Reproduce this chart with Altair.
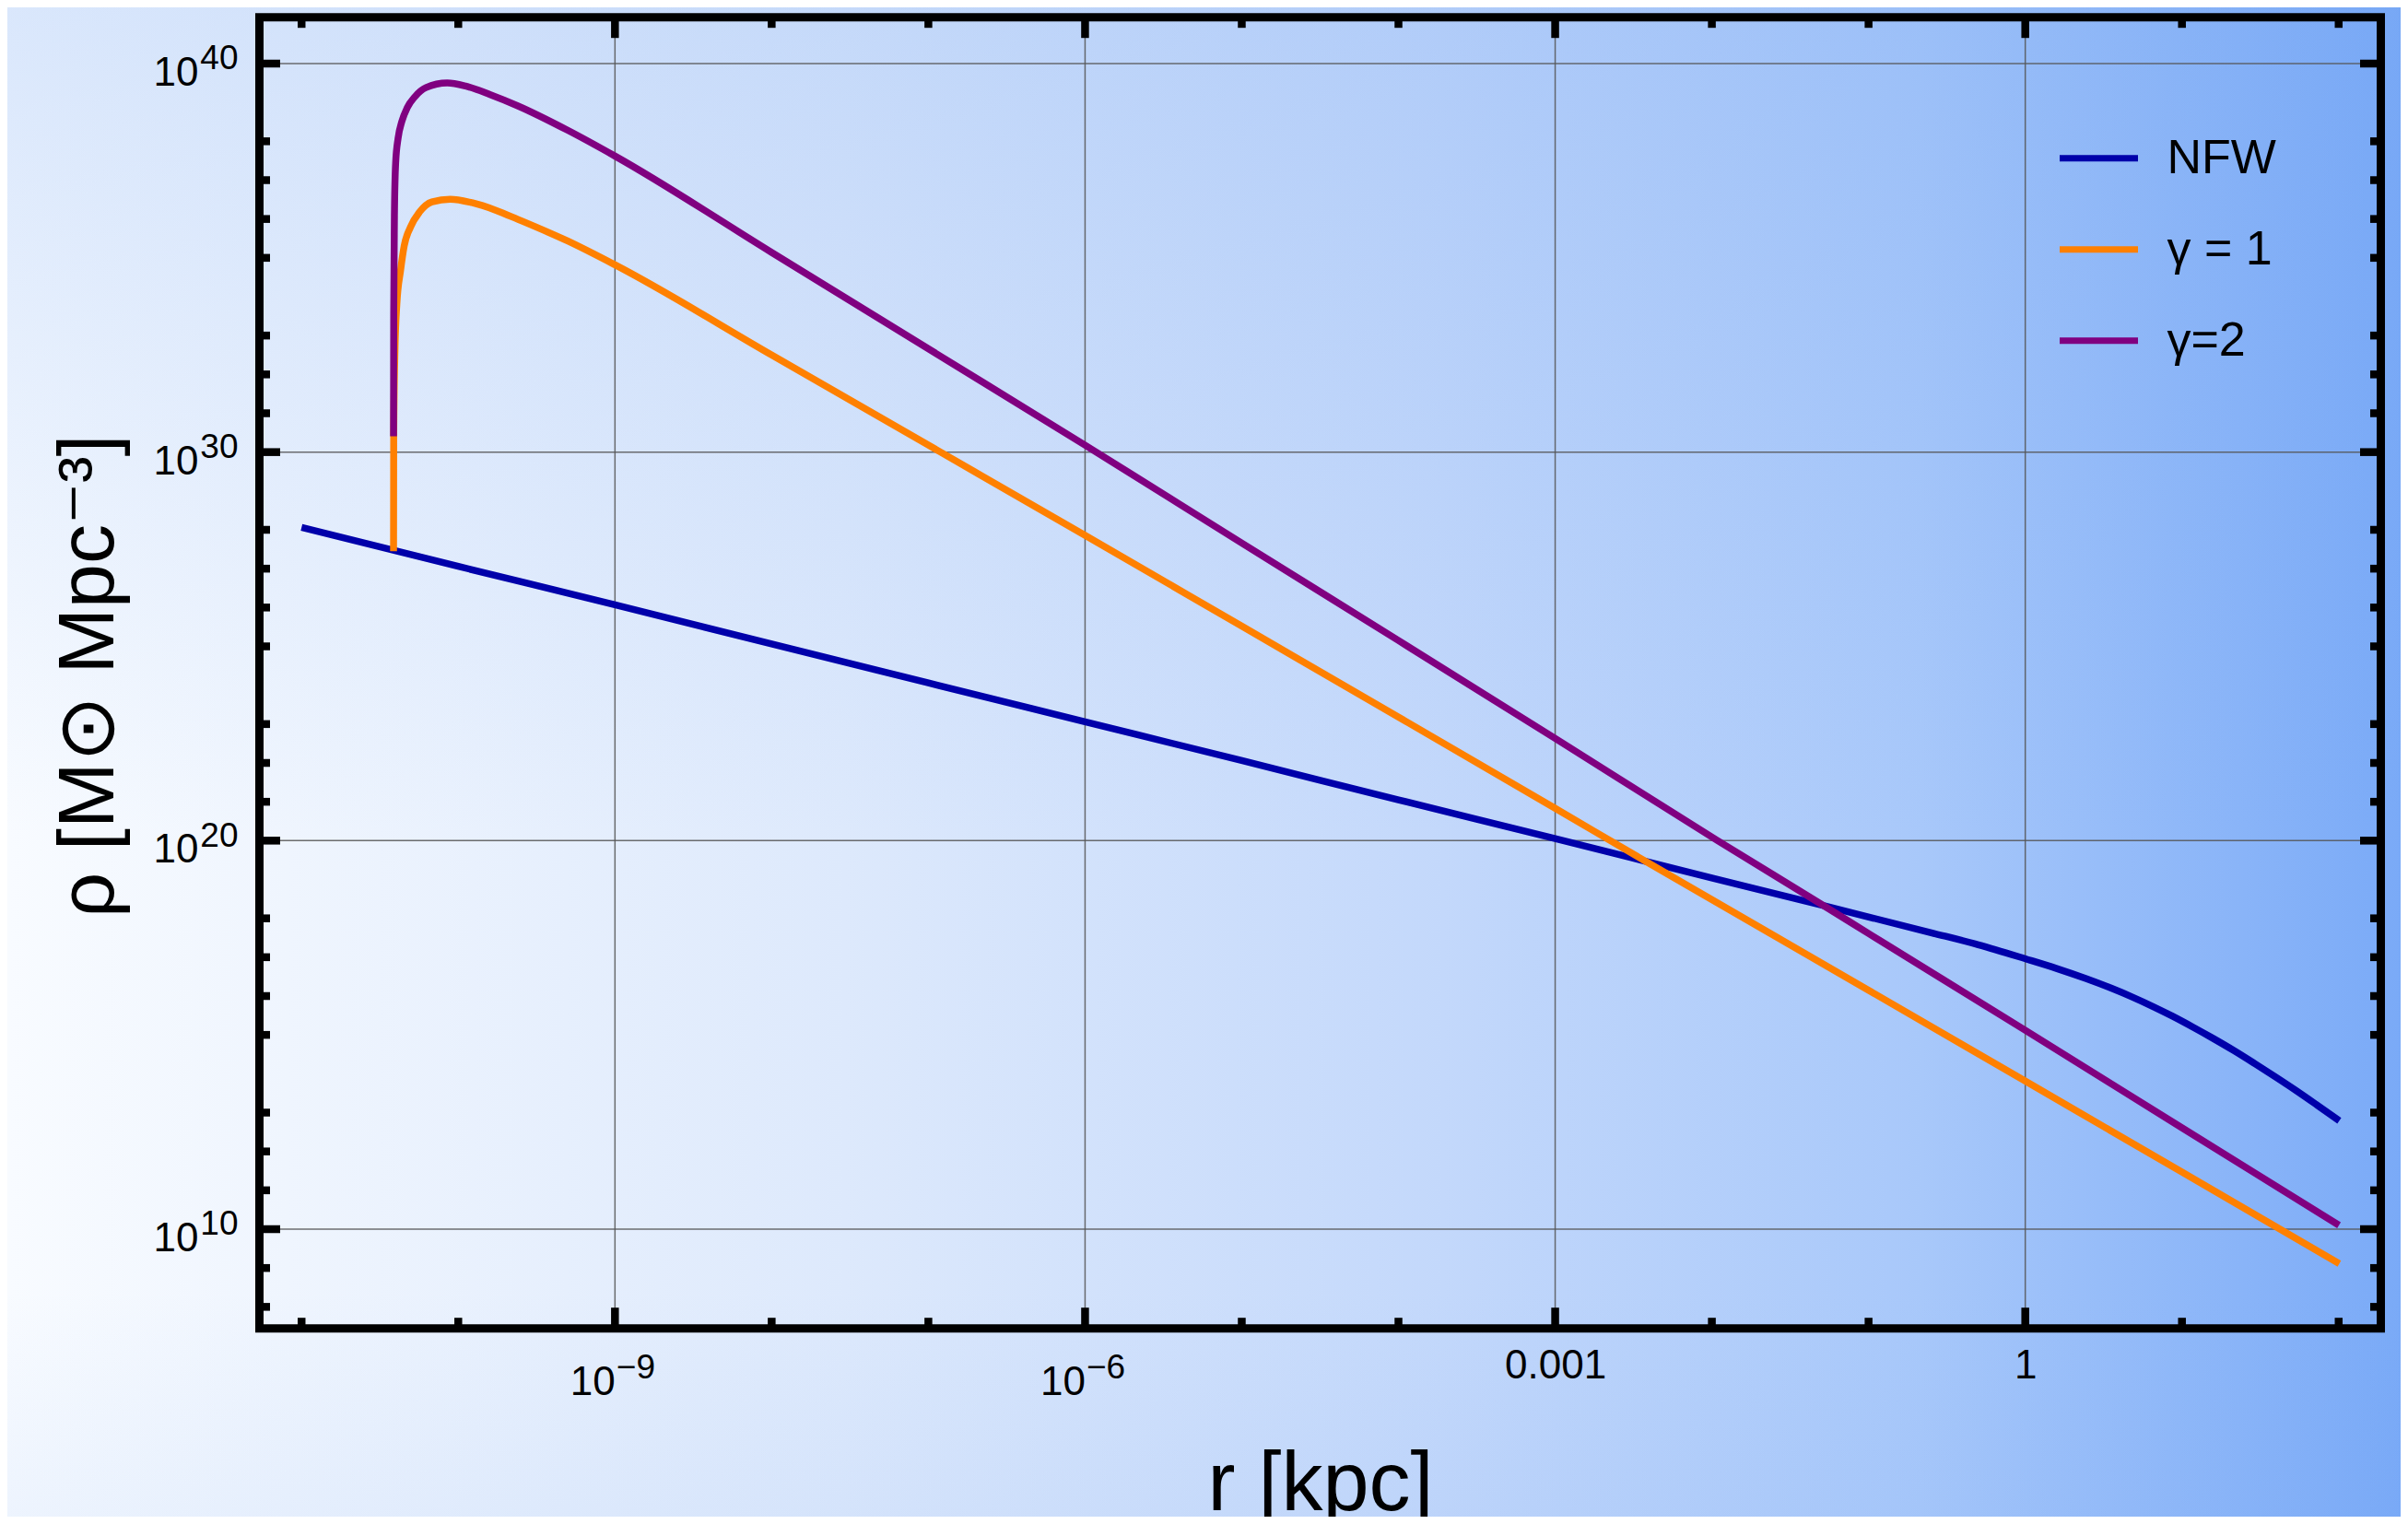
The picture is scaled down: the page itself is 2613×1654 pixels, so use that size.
import altair as alt
import pandas as pd

FONT = "Liberation Sans"

SERIES = ["NFW", "γ = 1", "γ=2"]
COLORS = ["#0000aa", "#ff8000", "#800080"]

# log10(r / kpc) and log10(rho / (Msun Mpc^-3))
nfw_log_r = [-11.0, -10.0, -9.0, -8.0, -7.0, -6.0, -5.0, -4.0, -3.0, -2.0, -1.28, -0.6, -0.3,
             0.0, 0.2, 0.387, 0.55, 0.68, 0.82, 0.94, 1.07, 1.19, 1.33, 1.465, 1.6, 1.72, 1.86, 2.004]
nfw_log_rho = [28.06, 27.06, 26.07, 25.06, 24.06, 23.06, 22.06, 21.05, 20.05, 19.04, 18.32, 17.63, 17.32,
               16.96, 16.71, 16.45, 16.20, 15.98, 15.72, 15.48, 15.20, 14.93, 14.60, 14.26, 13.91, 13.59, 13.20, 12.79]

g1_log_r = [-10.413, -10.412, -10.404, -10.392, -10.368, -10.345, -10.305, -10.247, -10.168,
            -10.051, -9.913, -9.757, -9.619, -9.3, -9.0, -8.0, -7.0, -6.0, -5.0, -4.0, -3.0,
            -2.436, -1.0, 0.0, 1.0, 2.004]
g1_log_rho = [27.45, 30.42, 32.63, 33.81, 34.68, 35.31, 35.79, 36.18, 36.44,
              36.51, 36.42, 36.22, 35.99, 35.43, 34.82, 32.50, 30.18, 27.86, 25.52, 23.18, 20.83,
              19.50, 16.15, 13.81, 11.47, 9.11]

g2_log_r = [-10.413, -10.412, -10.407, -10.3995, -10.384, -10.360, -10.325, -10.276, -10.207,
            -10.070, -9.953, -9.796, -9.619, -9.3, -9.0, -8.0, -7.0, -6.0, -5.0, -4.0, -3.0,
            -1.963, -1.288, -1.0, 0.0, 1.0, 2.002]
g2_log_rho = [30.41, 33.57, 36.26, 37.45, 38.08, 38.51, 38.87, 39.15, 39.38,
              39.50, 39.42, 39.20, 38.91, 38.28, 37.62, 35.14, 32.66, 30.18, 27.66, 25.15, 22.63,
              20.0, 18.33, 17.61, 15.12, 12.61, 10.10]

# axis ticks (exponents)
x_major_exp = [-9, -6, -3, 0]
x_minor_exp = [-11, -10, -8, -7, -5, -4, -2, -1, 1, 2]
y_major_exp = [10, 20, 30, 40]
y_minor_exp = [8, 9, 11, 12, 13, 15, 16, 17, 18, 21, 22, 23, 25, 26, 27, 28,
               31, 32, 33, 35, 36, 37, 38]

X_DOMAIN_EXP = [-11.269, 2.269]
Y_DOMAIN_EXP = [7.446, 41.193]

W, H = 2302, 1423
PAD_L, PAD_T = 273.5, 10.7
PAD_R = 2597 - PAD_L - W
PAD_B = 1638 - PAD_T - H

xs = alt.Scale(type="log", domain=[10 ** X_DOMAIN_EXP[0], 10 ** X_DOMAIN_EXP[1]], nice=False)
ys = alt.Scale(type="log", domain=[10 ** Y_DOMAIN_EXP[0], 10 ** Y_DOMAIN_EXP[1]], nice=False)

x_major = [10.0 ** e for e in x_major_exp]
x_minor = [10.0 ** e for e in x_minor_exp]
y_major = [10.0 ** e for e in y_major_exp]
y_minor = [10.0 ** e for e in y_minor_exp]

common_lab = dict(labelFont=FONT, labelColor="black", ticks=False, domain=False, grid=False,
                  labelOverlap=False, labelFlush=False, zindex=1)

ax_x10 = alt.Axis(orient="bottom", values=x_major[:2], labelExpr="'10'", labelAlign="right",
                  labelBaseline="alphabetic", labelPadding=71.3, labelOffset=0, labelFontSize=44,
                  title="r [kpc]", titleFont=FONT, titleFontSize=90, titleFontWeight="normal",
                  titleColor="black", titleBaseline="alphabetic", titleY=196.3, titleAlign="center",
                  **common_lab)
ax_xexp = alt.Axis(orient="bottom", values=x_major[:2],
                   labelExpr="datum.value < 1e-7 ? '\u22129' : '\u22126'", labelAlign="left",
                   labelBaseline="alphabetic", labelPadding=53.3, labelOffset=1, labelFontSize=37,
                   title=None, **common_lab)
ax_xdec = alt.Axis(orient="bottom", values=x_major[2:],
                   labelExpr="datum.value < 0.1 ? '0.001' : '1'", labelAlign="center",
                   labelBaseline="alphabetic", labelPadding=53.3, labelFontSize=44,
                   title=None, **common_lab)

ax_y10 = alt.Axis(orient="left", values=y_major, labelExpr="'10'", labelAlign="right",
                  labelBaseline="alphabetic", labelPadding=66.5, labelOffset=23.6, labelFontSize=44,
                  title="ρ [M⊙ Mpc⁻³]", titleFont=FONT, titleFontSize=86, titleFontWeight="normal",
                  titleColor="black", titleBaseline="alphabetic", titleAngle=270, titleX=-159.5,
                  titleY=H / 2 + 3, titleAlign="center", **common_lab)
ax_yexp = alt.Axis(orient="left", values=y_major,
                   labelExpr="datum.value < 1e15 ? '10' : datum.value < 1e25 ? '20' : datum.value < 1e35 ? '30' : '40'",
                   labelAlign="left", labelBaseline="alphabetic", labelPadding=64.7, labelOffset=5.7,
                   labelFontSize=37, title=None, **common_lab)

one = pd.DataFrame({"k": [0]})

bg_grad = {"gradient": "linear", "x1": 0, "y1": 0, "x2": 1, "y2": 0,
           "stops": [{"offset": 0.0, "color": "#f8fbff"},
                     {"offset": 0.35, "color": "#dde9fc"},
                     {"offset": 0.6, "color": "#c3d8fb"},
                     {"offset": 0.8, "color": "#a8c8fa"},
                     {"offset": 1.0, "color": "#7aaaf7"}]}
bg_grad2 = {"gradient": "linear", "x1": 0, "y1": 0, "x2": 0, "y2": 1,
            "stops": [{"offset": 0.0, "color": "rgba(110,160,240,0.22)"},
                      {"offset": 0.55, "color": "rgba(110,160,240,0.0)"},
                      {"offset": 0.85, "color": "rgba(110,160,240,0.0)"},
                      {"offset": 1.0, "color": "rgba(110,160,240,0.08)"}]}

bg_enc = dict(x=alt.value(-PAD_L), x2=alt.value(W + PAD_R), y=alt.value(-PAD_T), y2=alt.value(H + PAD_B))
bg = alt.Chart(one).mark_rect(fill=bg_grad, strokeWidth=0).encode(**bg_enc)
bg2 = alt.Chart(one).mark_rect(fill=bg_grad2, strokeWidth=0).encode(**bg_enc)

GRID = dict(color="#555555", strokeWidth=1.5, opacity=0.85)
vgrid = alt.Chart(pd.DataFrame({"v": x_major})).mark_rule(**GRID).encode(
    x=alt.X("v:Q", scale=xs, axis=ax_x10))
hgrid = alt.Chart(pd.DataFrame({"v": y_major})).mark_rule(**GRID).encode(
    y=alt.Y("v:Q", scale=ys, axis=ax_y10))

legend = alt.Legend(title=None, orient="none", legendX=1950, legendY=107, symbolType="stroke",
                    symbolStrokeWidth=7, symbolSize=7225, labelFont=FONT, labelFontSize=52,
                    labelColor="black", labelOffset=28, rowPadding=27, padding=0, labelLimit=0,
                    zindex=1)
cscale = alt.Scale(domain=SERIES, range=COLORS)


def curve(name, lr, lrho):
    df = pd.DataFrame({"r": [10.0 ** v for v in lr], "rho": [10.0 ** v for v in lrho],
                       "series": name})
    return alt.Chart(df).mark_line(strokeWidth=7.5, interpolate="monotone").encode(
        x=alt.X("r:Q", scale=xs, axis=None),
        y=alt.Y("rho:Q", scale=ys, axis=None),
        color=alt.Color("series:N", scale=cscale, legend=legend),
    )


lines = [curve(SERIES[0], nfw_log_r, nfw_log_rho),
         curve(SERIES[1], g1_log_r, g1_log_rho),
         curve(SERIES[2], g2_log_r, g2_log_rho)]

TICK = dict(color="black", strokeWidth=8.5)
MAJ, MIN = 22.5, 11.5


def xticks(vals, length, top, axis=None):
    y0 = 0 if top else H
    y1 = length if top else H - length
    return alt.Chart(pd.DataFrame({"v": vals})).mark_rule(**TICK).encode(
        x=alt.X("v:Q", scale=xs, axis=axis), y=alt.value(y0), y2=alt.value(y1))


def yticks(vals, length, right, axis=None):
    x0 = W if right else 0
    x1 = W - length if right else length
    return alt.Chart(pd.DataFrame({"v": vals})).mark_rule(**TICK).encode(
        y=alt.Y("v:Q", scale=ys, axis=axis), x=alt.value(x0), x2=alt.value(x1))


ticks = [
    xticks(x_major, MAJ, False, ax_xexp),
    xticks(x_minor, MIN, False),
    xticks(x_major, MAJ, True, ax_xdec),
    xticks(x_minor, MIN, True),
    yticks(y_major, MAJ, False, ax_yexp),
    yticks(y_minor, MIN, False),
    yticks(y_major, MAJ, True),
    yticks(y_minor, MIN, True),
]

frame = alt.Chart(one).mark_rect(fillOpacity=0, stroke="black", strokeWidth=9).encode(
    x=alt.value(0), x2=alt.value(W), y=alt.value(0), y2=alt.value(H))

chart = alt.layer(bg, bg2, vgrid, hgrid, *lines, *ticks, frame).resolve_axis(
    x="independent", y="independent"
).properties(
    width=W, height=H,
    padding={"left": PAD_L, "top": PAD_T, "right": PAD_R, "bottom": PAD_B},
    autosize=alt.AutoSizeParams(type="none"),
    background="#ffffff",
).configure_view(stroke=None)

chart.save("out.html", embed_options={"renderer": "svg", "actions": False})
